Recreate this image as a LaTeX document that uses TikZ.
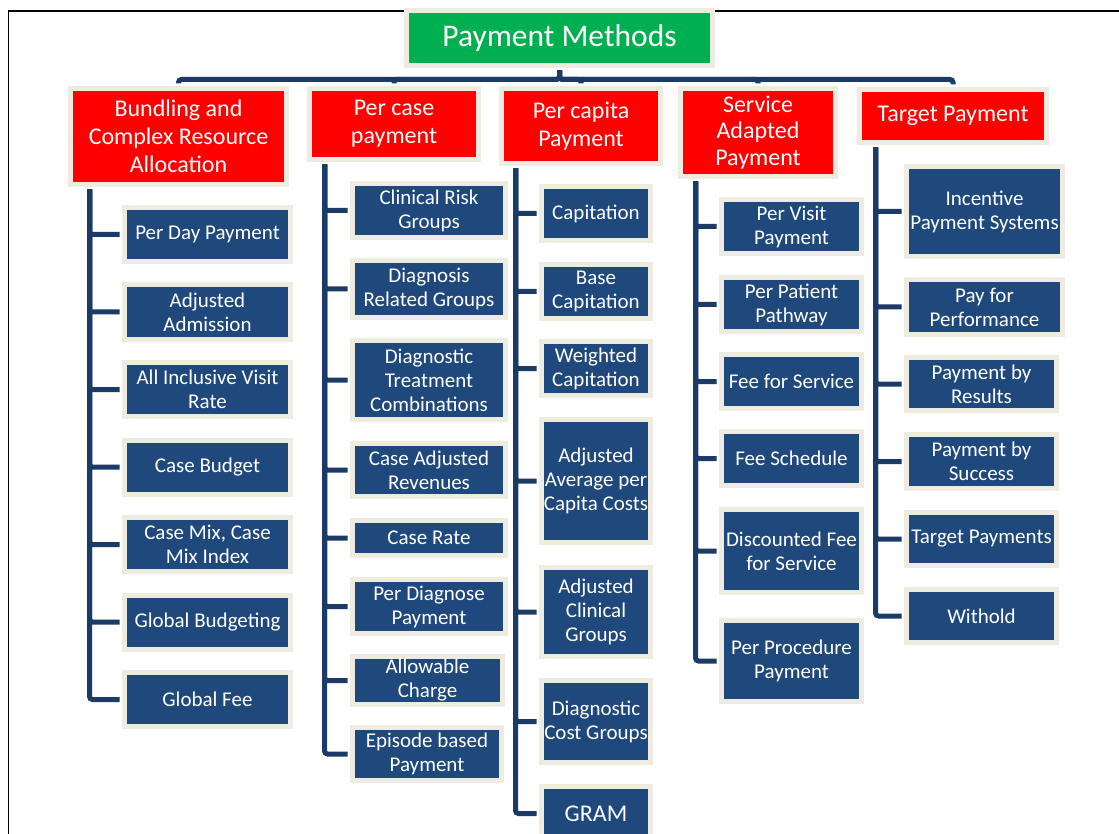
\documentclass[tikz,border=0pt]{standalone}
\usepackage{fontspec}
\setmainfont{Carlito}
\definecolor{rootgreen}{HTML}{00B050}
\definecolor{headred}{HTML}{FF0000}
\definecolor{leafblue}{HTML}{1F497D}
\definecolor{linkblue}{HTML}{1B3A66}
\definecolor{rim}{HTML}{EEECE1}

\begin{document}
\begin{tikzpicture}[x=1pt,y=1pt,
 box/.style={draw=rim,line width=5pt,inner sep=0pt,align=center,text=white},
 root/.style={box,fill=rootgreen,font=\fontsize{31.5}{36}\selectfont},
 method/.style={box,fill=headred,font=\fontsize{24}{28}\selectfont},
 variant/.style={box,fill=leafblue,font=\fontsize{21}{24}\selectfont,minimum height=54},
 bundleitem/.style={variant,minimum width=166},
 caseitem/.style={variant,minimum width=153},
 capitaitem/.style={variant,minimum width=109},
 serviceitem/.style={variant,minimum width=140},
 targetitem/.style={variant,minimum width=150},
 link/.style={draw=linkblue,line width=5pt,rounded corners=3pt,shorten <=2.5pt,shorten >=2.5pt}
]
\useasboundingbox (0,0) rectangle (1119,-834);
\clip (0,0) rectangle (1119,-834);
\draw[line width=1.8pt] (8.5,-860) -- (8.5,-11) -- (1140,-11);

% top levels
\node[root,minimum width=306,minimum height=55] (payment) at (559.5,-38) {Payment Methods};
\node[method,minimum width=216,minimum height=96] (bundling) at (178.5,-136.5)
 {Bundling and\\Complex Resource\\Allocation};
\node[method,minimum width=169,minimum height=71] (percase) at (394,-124) {Per case\\payment};
\node[method,minimum width=159,minimum height=75] (percapita) at (581,-126) {Per capita\\Payment};
\node[method,minimum width=155,minimum height=88,font=\fontsize{24}{26.5}\selectfont] (service) at (758,-132.5)
 {Service\\Adapted\\Payment};
\node[method,minimum width=187,minimum height=53] (target) at (953,-116) {Target Payment};

% bundling
\node[bundleitem] (perday) at (207.5,-234.5) {Per Day Payment};
\node[bundleitem] (adjadmission) at (207.5,-312) {Adjusted\\Admission};
\node[bundleitem] (visitrate) at (207.5,-389.5) {All Inclusive Visit\\Rate};
\node[bundleitem] (casebudget) at (207.5,-467) {Case Budget};
\node[bundleitem] (casemix) at (207.5,-544.5) {Case Mix, Case\\Mix Index};
\node[bundleitem] (globalbudget) at (207.5,-622) {Global Budgeting};
\node[bundleitem] (globalfee) at (207.5,-699.5) {Global Fee};

% per case
\node[caseitem] (riskgroups) at (429,-210.5) {Clinical Risk\\Groups};
\node[caseitem,minimum height=57] (drg) at (429,-289) {Diagnosis\\Related Groups};
\node[caseitem,minimum height=79] (dtc) at (429,-380) {Diagnostic\\Treatment\\Combinations};
\node[caseitem,minimum height=53] (adjrevenues) at (429,-470) {Case Adjusted\\Revenues};
\node[caseitem,minimum height=35] (caserate) at (429,-538) {Case Rate};
\node[caseitem] (perdiagnose) at (429,-606.5) {Per Diagnose\\Payment};
\node[caseitem,minimum width=150,minimum height=48] (allowable) at (427.5,-680.5) {Allowable\\Charge};
\node[caseitem,minimum width=149,minimum height=53] (episode) at (427,-754) {Episode based\\Payment};

% per capita
\node[capitaitem] (capitation) at (596,-213.5) {Capitation};
\node[capitaitem] (basecap) at (596,-291.5) {Base\\Capitation};
\node[capitaitem] (weightedcap) at (596,-368.5) {Weighted\\Capitation};
\node[capitaitem,minimum height=123] (avgcosts) at (596,-481) {Adjusted\\Average per\\Capita Costs};
\node[capitaitem,minimum height=89] (clinicalgroups) at (596,-612) {Adjusted\\Clinical\\Groups};
\node[capitaitem,minimum height=82] (costgroups) at (596,-721.5) {Diagnostic\\Cost Groups};
\node[capitaitem,font=\fontsize{24}{28}\selectfont] (gram) at (596,-813.5) {GRAM};

% service adapted
\node[serviceitem] (pervisit) at (791.5,-226.5) {Per Visit\\Payment};
\node[serviceitem] (pathway) at (791.5,-304.5) {Per Patient\\Pathway};
\node[serviceitem] (feeservice) at (791.5,-381.5) {Fee for Service};
\node[serviceitem] (feeschedule) at (791.5,-458.5) {Fee Schedule};
\node[serviceitem,minimum height=83] (discounted) at (791.5,-551) {Discounted Fee\\for Service};
\node[serviceitem,minimum height=81] (perprocedure) at (791.5,-661) {Per Procedure\\Payment};

% target
\node[targetitem,minimum width=156,minimum height=90] (incentive) at (984.5,-211.5) {Incentive\\Payment Systems};
\node[targetitem,minimum width=156,minimum height=55] (performance) at (984.5,-307) {Pay for\\Performance};
\node[targetitem,minimum height=53] (results) at (981.5,-384) {Payment by\\Results};
\node[targetitem] (success) at (981.5,-461.5) {Payment by\\Success};
\node[targetitem,minimum height=53] (targetpay) at (981.5,-539) {Target Payments};
\node[targetitem,minimum height=53] (withold) at (981.5,-616) {Withold};

% connectors
\draw[link] (payment.south) -- ++(0,-11.5) -| (bundling.north);
\draw[link] (payment.south) -- ++(0,-11.5) -| (percase.north);
\draw[link] (payment.south) -- ++(0,-11.5) -| (percapita.north);
\draw[link] (payment.south) -- ++(0,-11.5) -| (service.north);
\draw[link] (payment.south) -- ++(0,-11.5) -| (target.north);

\draw[link] ([xshift=21.5pt]bundling.south west) |- (perday.west);
\draw[link] ([xshift=21.5pt]bundling.south west) |- (adjadmission.west);
\draw[link] ([xshift=21.5pt]bundling.south west) |- (visitrate.west);
\draw[link] ([xshift=21.5pt]bundling.south west) |- (casebudget.west);
\draw[link] ([xshift=21.5pt]bundling.south west) |- (casemix.west);
\draw[link] ([xshift=21.5pt]bundling.south west) |- (globalbudget.west);
\draw[link] ([xshift=21.5pt]bundling.south west) |- (globalfee.west);

\draw[link] ([xshift=17.5pt]percase.south west) |- (riskgroups.west);
\draw[link] ([xshift=17.5pt]percase.south west) |- (drg.west);
\draw[link] ([xshift=17.5pt]percase.south west) |- (dtc.west);
\draw[link] ([xshift=17.5pt]percase.south west) |- (adjrevenues.west);
\draw[link] ([xshift=17.5pt]percase.south west) |- (caserate.west);
\draw[link] ([xshift=17.5pt]percase.south west) |- (perdiagnose.west);
\draw[link] ([xshift=17.5pt]percase.south west) |- (allowable.west);
\draw[link] ([xshift=17.5pt]percase.south west) |- (episode.west);

\draw[link] ([xshift=16.5pt]percapita.south west) |- (capitation.west);
\draw[link] ([xshift=16.5pt]percapita.south west) |- (basecap.west);
\draw[link] ([xshift=16.5pt]percapita.south west) |- (weightedcap.west);
\draw[link] ([xshift=16.5pt]percapita.south west) |- (avgcosts.west);
\draw[link] ([xshift=16.5pt]percapita.south west) |- (clinicalgroups.west);
\draw[link] ([xshift=16.5pt]percapita.south west) |- (costgroups.west);
\draw[link] ([xshift=16.5pt]percapita.south west) |- (gram.west);

\draw[link] ([xshift=17.5pt]service.south west) |- (pervisit.west);
\draw[link] ([xshift=17.5pt]service.south west) |- (pathway.west);
\draw[link] ([xshift=17.5pt]service.south west) |- (feeservice.west);
\draw[link] ([xshift=17.5pt]service.south west) |- (feeschedule.west);
\draw[link] ([xshift=17.5pt]service.south west) |- (discounted.west);
\draw[link] ([xshift=17.5pt]service.south west) |- (perprocedure.west);

\draw[link] ([xshift=18.5pt]target.south west) |- (incentive.west);
\draw[link] ([xshift=18.5pt]target.south west) |- (performance.west);
\draw[link] ([xshift=18.5pt]target.south west) |- (results.west);
\draw[link] ([xshift=18.5pt]target.south west) |- (success.west);
\draw[link] ([xshift=18.5pt]target.south west) |- (targetpay.west);
\draw[link] ([xshift=18.5pt]target.south west) |- (withold.west);
\end{tikzpicture}
\end{document}
